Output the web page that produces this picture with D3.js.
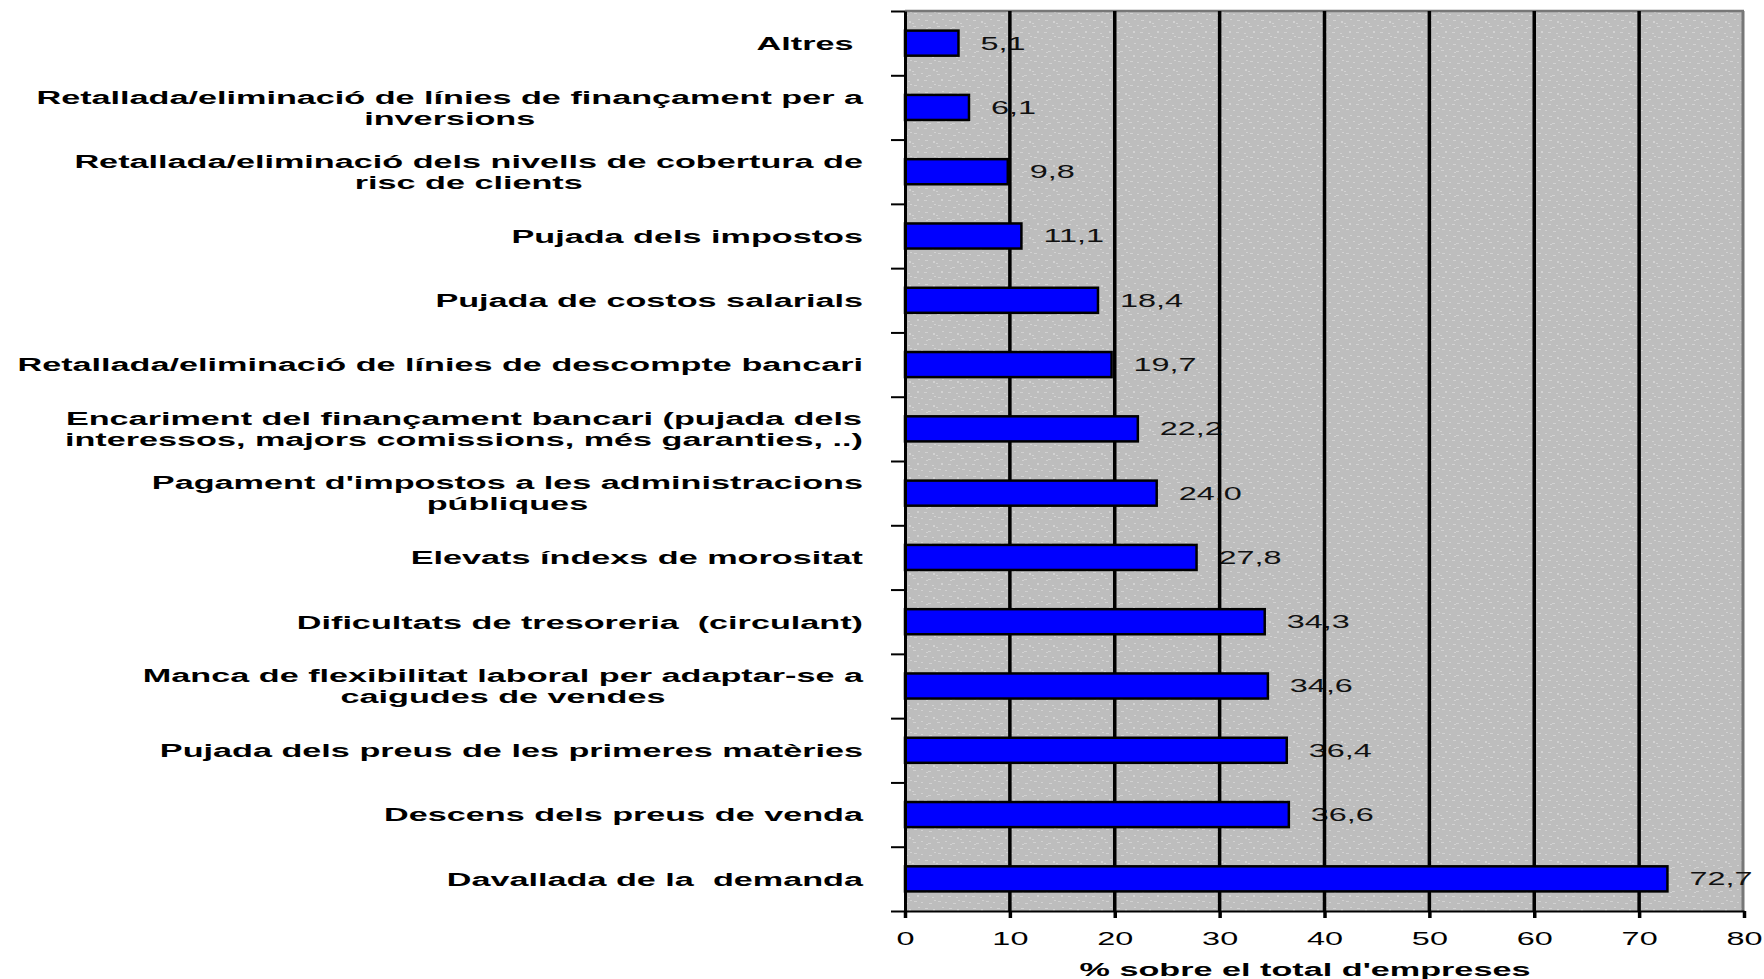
<!DOCTYPE html>
<html>
<head>
<meta charset="utf-8">
<title>Problemes de les empreses</title>
<script src="https://cdn.jsdelivr.net/npm/d3@7"></script>
<style>
	html, body{
		margin: 0;
		padding: 0;
		background: #fff;
	}
	svg text{
		font-family: 'Liberation Sans', Arial, sans-serif;
	}
	.cat{
		font-size: 19px;
		font-weight: bold;
		white-space: pre;
		fill: #000;
	}
	.val{
		font-size: 18px;
		fill: #111;
	}
	.xaxis text{
		font-size: 18px;
		fill: #000;
	}
	.title{
		font-size: 19px;
		font-weight: bold;
		fill: #000;
	}
</style>
</head>
<body>
<svg id="chart" width="1764" height="979"></svg>
<script>
	// categories, top to bottom, already split in lines as in the picture
	var categories = [
		["Altres "],
		["Retallada/eliminació de línies de finançament per a", "inversions"],
		["Retallada/eliminació dels nivells de cobertura de", "risc de clients"],
		["Pujada dels impostos"],
		["Pujada de costos salarials"],
		["Retallada/eliminació de línies de descompte bancari"],
		["Encariment del finançament bancari (pujada dels", "interessos, majors comissions, més garanties, ..)"],
		["Pagament d'impostos a les administracions", "públiques"],
		["Elevats índexs de morositat"],
		["Dificultats de tresoreria  (circulant)"],
		["Manca de flexibilitat laboral per adaptar-se a", "caigudes de vendes"],
		["Pujada dels preus de les primeres matèries"],
		["Descens dels preus de venda"],
		["Davallada de la  demanda"]
	];
	var values = [5.1, 6.1, 9.8, 11.1, 18.4, 19.7, 22.2, 24.0, 27.8, 34.3, 34.6, 36.4, 36.6, 72.7];
	var xTicks = [0, 10, 20, 30, 40, 50, 60, 70, 80];
	var xTitle = "% sobre el total d'empreses";

	function draw() {
		var SX = 1.8,   // the picture's text is stretched sideways
			pLeft = 905,
			pRight = 1744,
			pTop = 11,
			pBottom = 911,
			labelRight = 863;

		var svg = d3.select('#chart');

		var x = d3.scaleLinear().domain([0, 80]).range([pLeft, pRight]);
		var idx = d3.range(categories.length);
		var y = d3.scaleBand().domain(idx).range([pTop, pBottom]).paddingInner(0.61).paddingOuter(0.305);
		var yEdge = d3.scaleLinear().domain([0, categories.length]).range([pTop, pBottom]);

		// speckled grey background
		var defs = svg.append('defs');
		var pat = defs.append('pattern')
			.attr('id', 'speck')
			.attr('patternUnits', 'userSpaceOnUse')
			.attr('width', 24)
			.attr('height', 24);
		pat.append('rect').attr('width', 24).attr('height', 24).attr('fill', '#bdbdbd');
		var specks = [[1,2,3,1],[9,1,2,1],[16,3,3,1],[5,7,2,2],[12,8,3,1],[20,9,2,1],[2,13,3,1],[9,14,2,1],
			[17,15,3,1],[6,19,2,1],[13,20,3,1],[21,21,2,2],[0,23,2,1],[14,4,2,1],[22,12,2,1]];
		pat.selectAll('rect.s').data(specks).enter().append('rect')
			.attr('class', 's')
			.attr('x', function(d){ return d[0]; })
			.attr('y', function(d){ return d[1]; })
			.attr('width', function(d){ return d[2]; })
			.attr('height', function(d){ return d[3]; })
			.attr('fill', '#d2d2d2');

		svg.append('rect')
			.attr('x', pLeft)
			.attr('y', pTop)
			.attr('width', pRight - pLeft)
			.attr('height', pBottom - pTop)
			.attr('fill', 'url(#speck)');

		// plot frame (top & right, grey)
		svg.append('line')
			.attr('x1', pLeft).attr('x2', pRight)
			.attr('y1', pTop).attr('y2', pTop)
			.attr('stroke', '#777').attr('stroke-width', 2.5);
		svg.append('line')
			.attr('x1', pRight - 1).attr('x2', pRight - 1)
			.attr('y1', pTop).attr('y2', pBottom)
			.attr('stroke', '#777').attr('stroke-width', 3);

		// value labels (the gridlines run over them in the picture)
		var fmt = d3.format('.1f');
		svg.append('g').selectAll('g').data(values).enter().append('g')
			.attr('transform', function(d, i){
				return 'translate(' + (x(d) + 22) + ',' + (y(i) + y.bandwidth() / 2) + ') scale(' + SX + ',1)';
			})
			.append('text')
			.attr('class', 'val')
			.attr('dy', '0.36em')
			.text(function(d){ return fmt(d).replace('.', ','); });

		// vertical gridlines
		svg.append('g').selectAll('line').data(xTicks.slice(1, -1)).enter().append('line')
			.attr('x1', function(d){ return x(d); })
			.attr('x2', function(d){ return x(d); })
			.attr('y1', pTop)
			.attr('y2', pBottom)
			.attr('stroke', '#000')
			.attr('stroke-width', 3.5);

		// bars
		svg.append('g').selectAll('rect').data(values).enter().append('rect')
			.attr('x', x(0))
			.attr('y', function(d, i){ return y(i); })
			.attr('width', function(d){ return x(d) - x(0); })
			.attr('height', y.bandwidth())
			.attr('fill', '#0000ff')
			.attr('stroke', '#000')
			.attr('stroke-width', 2.5);

		// left axis with ticks on the category edges
		var yAxis = d3.axisLeft(yEdge)
			.tickValues(d3.range(categories.length + 1))
			.tickSize(14)
			.tickSizeOuter(0)
			.tickFormat('');
		var ya = svg.append('g').attr('transform', 'translate(' + pLeft + ',0)').call(yAxis);
		ya.select('.domain').attr('stroke', '#000').attr('stroke-width', 3);
		ya.selectAll('.tick line').attr('stroke', '#000').attr('stroke-width', 2);

		// bottom axis
		var xAxis = d3.axisBottom(x)
			.tickValues(xTicks)
			.tickSize(7)
			.tickSizeOuter(0)
			.tickPadding(14);
		var xa = svg.append('g').attr('class', 'xaxis').attr('transform', 'translate(0,' + pBottom + ')').call(xAxis);
		xa.attr('font-family', null).attr('font-size', null);
		xa.select('.domain').attr('stroke', '#000').attr('stroke-width', 2);
		xa.selectAll('.tick line').attr('stroke', '#000').attr('stroke-width', 3.5);
		xa.selectAll('.tick text')
			.attr('transform', 'scale(' + SX + ',1)');

		// category labels: block right aligned, lines centred inside it
		categories.forEach(function(lines, i){
			var cy = y(i) + y.bandwidth() / 2;
			var g = svg.append('g')
				.attr('transform', 'translate(' + labelRight + ',' + cy + ') scale(' + SX + ',1)');
			var texts = g.selectAll('text').data(lines).enter().append('text')
				.attr('class', 'cat')
				.attr('text-anchor', 'middle')
				.attr('y', function(d, j){ return (j - (lines.length - 1) / 2) * 21; })
				.attr('dy', '0.36em')
				.text(function(d){ return d; });
			var maxW = d3.max(texts.nodes(), function(n){ return n.getComputedTextLength(); });
			texts.attr('x', -maxW / 2);
		});

		// axis title
		svg.append('g')
			.attr('transform', 'translate(1305,976) scale(' + SX + ',1)')
			.append('text')
			.attr('class', 'title')
			.attr('text-anchor', 'middle')
			.text(xTitle);
	}

	draw();
</script>
</body>
</html>
